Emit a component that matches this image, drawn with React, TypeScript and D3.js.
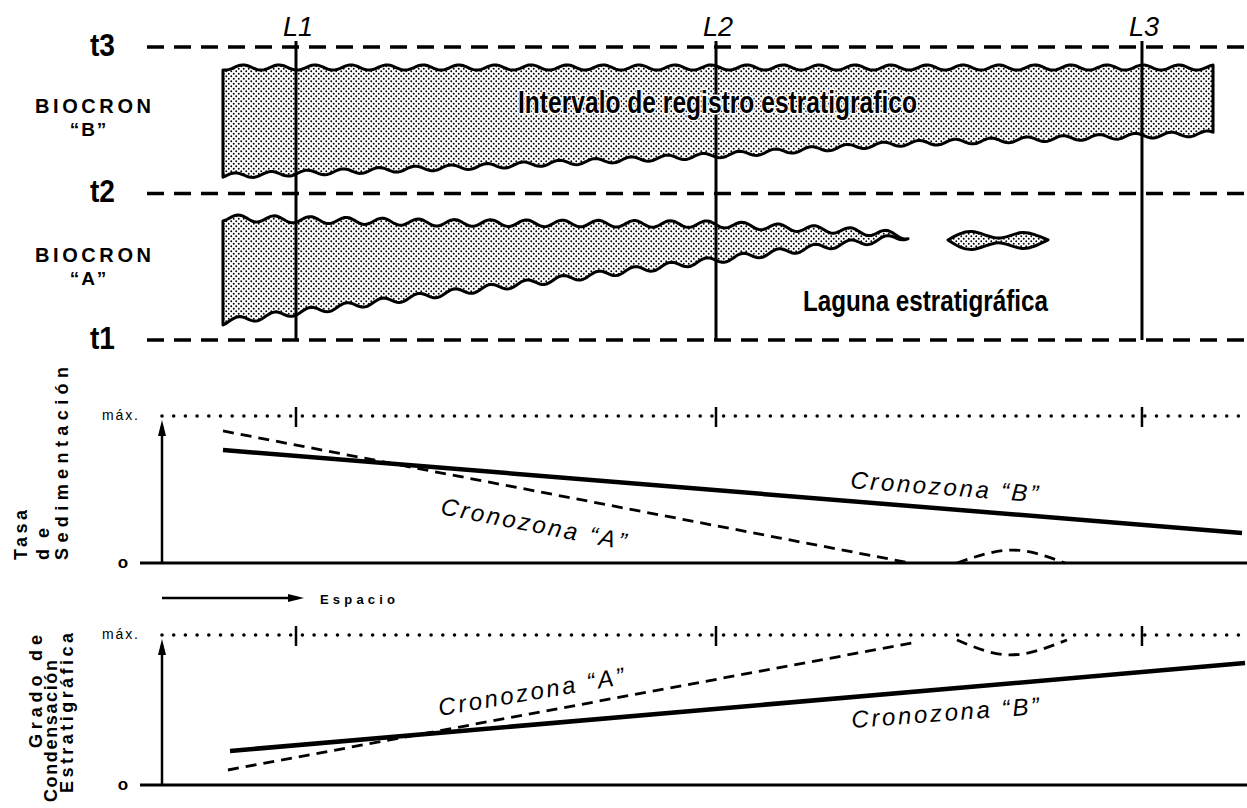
import { useEffect, useRef } from "react";
import * as d3 from "d3";

// time surfaces (top panel)
const timeLabels = ["t1", "t2", "t3"];
const timeValues = [1, 2, 3];

// stratigraphic sections, position along "Espacio" (0-100)
const sectionLabels = ["L1", "L2", "L3"];
const sectionPos = [12.35, 51.06, 90.32];

// Biocron "B" (time units, 1 = t1 ... 3 = t3)
const bioBX = [5.62, 31.2, 51.06, 68.0, 96.87];
const bioBTop = [2.86, 2.86, 2.86, 2.86, 2.86];
const bioBBottom = [2.12, 2.19, 2.26, 2.34, 2.41];

// Biocron "A"
const bioAX = [5.62, 25.6, 51.06, 62.0, 66.2, 68.76];
const bioATop = [1.833, 1.8, 1.79, 1.751, 1.73, 1.71];
const bioABottom = [1.123, 1.314, 1.546, 1.648, 1.683, 1.71];

// isolated lens of biocron "A"
const lensX = [72.44, 74.65, 77.05, 79.26, 81.66];
const lensTop = [1.683, 1.74, 1.696, 1.733, 1.683];
const lensBottom = [1.683, 1.618, 1.664, 1.625, 1.683];

// Tasa de sedimentación (0 .. máx = 1)
const rateBX = [5.62, 99.54];
const rateB = [0.769, 0.204];
const rateAX = [5.62, 68.94];
const rateA = [0.898, 0];
const rateLensX = [73.27, 78.4, 83.23];
const rateLens = [0, 0.088, 0];

// Grado de condensación (0 .. máx = 1)
const condBX = [6.27, 99.82];
const condB = [0.227, 0.813];
const condAX = [6.08, 69.59];
const condA = [0.1, 0.953];
const condLensX = [73.27, 78.16, 83.41];
const condLens = [0.967, 0.867, 0.967];

export default function App() {
  const chartRef = useRef<SVGSVGElement>(null);

  useEffect(() => {
    if (!chartRef.current) return;
    const width = 1247,
      height = 808;
    const font = "'Liberation Sans', Arial, Helvetica, sans-serif";
    const narrow = "'Liberation Sans Narrow', 'Liberation Sans', Arial, sans-serif";

    const svg = d3.select(chartRef.current);
    svg.selectAll("*").remove();
    svg.attr("width", width).attr("height", height);

    const x = d3.scaleLinear().domain([0, 100]).range([162, 1247]);
    const yTime = d3.scaleLinear().domain([1, 3]).range([340, 47]);
    const ySed = d3.scaleLinear().domain([0, 1]).range([563, 416]);
    const yCond = d3.scaleLinear().domain([0, 1]).range([785, 635]);

    // defs: stipple + arrow
    const defs = svg.append("defs");
    const pat = defs
      .append("pattern")
      .attr("id", "stipple")
      .attr("width", 5)
      .attr("height", 5)
      .attr("patternUnits", "userSpaceOnUse");
    pat.append("rect").attr("width", 5).attr("height", 5).attr("fill", "#fff");
    pat.append("circle").attr("cx", 1.25).attr("cy", 1.25).attr("r", 0.95).attr("fill", "#000");
    pat.append("circle").attr("cx", 3.75).attr("cy", 3.75).attr("r", 0.95).attr("fill", "#000");

    defs
      .append("marker")
      .attr("id", "arrowhead")
      .attr("viewBox", "0 0 16 8")
      .attr("refX", 10)
      .attr("refY", 4)
      .attr("markerUnits", "userSpaceOnUse")
      .attr("markerWidth", 16)
      .attr("markerHeight", 8)
      .attr("orient", "auto")
      .append("path")
      .attr("d", "M 0 0 L 16 4 L 0 8 Z")
      .attr("fill", "#000");

    // ---------- top panel ----------
    timeValues.forEach((t, i) => {
      svg
        .append("line")
        .attr("x1", 147)
        .attr("x2", width)
        .attr("y1", yTime(t))
        .attr("y2", yTime(t))
        .attr("stroke", "#000")
        .attr("stroke-width", 3.5)
        .attr("stroke-dasharray", "17 10");
      svg
        .append("text")
        .attr("x", 90)
        .attr("y", yTime(t) + 8.5)
        .attr("font-family", narrow)
        .attr("font-weight", "bold")
        .attr("font-size", 31)
        .attr("textLength", 25)
        .attr("lengthAdjust", "spacingAndGlyphs")
        .text(timeLabels[i]);
    });

    const wave = (px: number, amp: number, wl: number, ph: number) =>
      amp * Math.sin((2 * Math.PI * px) / wl + ph);

    function drawBand(xs: number[], tops: number[], bots: number[], amp: number, phTop: number, phBot: number) {
      const top = d3.scaleLinear().domain(xs).range(tops);
      const bot = d3.scaleLinear().domain(xs).range(bots);
      const last = xs[xs.length - 1];
      const u = d3.range(xs[0], last, 0.2).concat([last]);
      const area = d3
        .area<number>()
        .x((d) => x(d))
        .y1((d) => yTime(top(d)) + wave(x(d), amp, 36, phTop))
        .y0((d) => yTime(bot(d)) + wave(x(d), amp, 36, phBot));
      svg
        .append("path")
        .attr("d", area(u))
        .attr("fill", "url(#stipple)")
        .attr("stroke", "#000")
        .attr("stroke-width", 3)
        .attr("stroke-linejoin", "round");
    }

    drawBand(bioBX, bioBTop, bioBBottom, 2.6, 0, 1.4);
    drawBand(bioAX, bioATop, bioABottom, 3.3, 0.8, 0.8);

    const lensArea = d3
      .area<number>()
      .x((d) => x(lensX[d]))
      .y1((d) => yTime(lensTop[d]))
      .y0((d) => yTime(lensBottom[d]))
      .curve(d3.curveNatural);
    svg
      .append("path")
      .attr("d", lensArea(d3.range(lensX.length)))
      .attr("fill", "url(#stipple)")
      .attr("stroke", "#000")
      .attr("stroke-width", 3)
      .attr("stroke-linejoin", "round");

    // sections
    sectionPos.forEach((p, i) => {
      svg
        .append("line")
        .attr("x1", x(p))
        .attr("x2", x(p))
        .attr("y1", yTime(3) - 6)
        .attr("y2", yTime(1))
        .attr("stroke", "#000")
        .attr("stroke-width", 3);
      svg
        .append("text")
        .attr("x", x(p) - 13)
        .attr("y", 36)
        .attr("font-family", font)
        .attr("font-style", "italic")
        .attr("font-size", 27)
        .text(sectionLabels[i]);
    });

    // band texts (white halo over the stipple)
    svg
      .append("text")
      .attr("x", 518)
      .attr("y", 113)
      .attr("font-family", narrow)
      .attr("font-weight", "bold")
      .attr("font-size", 32)
      .attr("textLength", 399)
      .attr("lengthAdjust", "spacingAndGlyphs")
      .attr("stroke", "#fff")
      .attr("stroke-width", 3)
      .attr("paint-order", "stroke")
      .text("Intervalo de registro estratigrafico");

    svg
      .append("text")
      .attr("x", 803)
      .attr("y", 311)
      .attr("font-family", narrow)
      .attr("font-weight", "bold")
      .attr("font-size", 29)
      .attr("textLength", 245)
      .attr("lengthAdjust", "spacingAndGlyphs")
      .text("Laguna estratigráfica");

    // biocron labels
    [
      { y: 113, q: "“B”" },
      { y: 262, q: "“A”" },
    ].forEach((b) => {
      svg
        .append("text")
        .attr("x", 35)
        .attr("y", b.y)
        .attr("font-family", font)
        .attr("font-weight", "bold")
        .attr("font-size", 20)
        .attr("textLength", 116)
        .attr("lengthAdjust", "spacing")
        .text("BIOCRON");
      svg
        .append("text")
        .attr("x", 89)
        .attr("y", b.y + 23)
        .attr("text-anchor", "middle")
        .attr("font-family", font)
        .attr("font-weight", "bold")
        .attr("font-size", 19)
        .attr("letter-spacing", 2)
        .text(b.q);
    });

    // ---------- lower panels ----------
    function drawPanel(
      y: d3.ScaleLinear<number, number>,
      bx: number[],
      bv: number[],
      ax: number[],
      av: number[],
      lx: number[],
      lv: number[],
      labels: { u: number; v: number; rot: number; text: string }[],
      yLabel: { x: number; y: number; len: number; text: string }[]
    ) {
      // baseline
      svg
        .append("line")
        .attr("x1", 140)
        .attr("x2", width)
        .attr("y1", y(0))
        .attr("y2", y(0))
        .attr("stroke", "#000")
        .attr("stroke-width", 3);
      // max dotted line
      svg
        .append("line")
        .attr("x1", x(0))
        .attr("x2", width)
        .attr("y1", y(1))
        .attr("y2", y(1))
        .attr("stroke", "#000")
        .attr("stroke-width", 3.6)
        .attr("stroke-linecap", "round")
        .attr("stroke-dasharray", "0 11.7");
      // ticks for sections
      sectionPos.forEach((p) => {
        svg
          .append("line")
          .attr("x1", x(p))
          .attr("x2", x(p))
          .attr("y1", y(1) - 9)
          .attr("y2", y(1) + 11)
          .attr("stroke", "#000")
          .attr("stroke-width", 2.5);
      });
      // y axis arrow
      svg
        .append("line")
        .attr("x1", x(0))
        .attr("x2", x(0))
        .attr("y1", y(0))
        .attr("y2", y(1) + 10)
        .attr("stroke", "#000")
        .attr("stroke-width", 2.5)
        .attr("marker-end", "url(#arrowhead)");
      svg
        .append("text")
        .attr("x", 102)
        .attr("y", y(1) + 4)
        .attr("font-family", font)
        .attr("font-size", 14)
        .attr("textLength", 36)
        .attr("lengthAdjust", "spacing")
        .text("máx.");
      svg
        .append("text")
        .attr("x", 123)
        .attr("y", y(0) + 5)
        .attr("text-anchor", "middle")
        .attr("font-family", font)
        .attr("font-weight", "bold")
        .attr("font-size", 17)
        .text("o");

      const line = d3
        .line<[number, number]>()
        .x((d) => x(d[0]))
        .y((d) => y(d[1]));

      svg
        .append("path")
        .attr("d", line(d3.zip(bx, bv) as [number, number][]))
        .attr("fill", "none")
        .attr("stroke", "#000")
        .attr("stroke-width", 4.5);
      svg
        .append("path")
        .attr("d", line(d3.zip(ax, av) as [number, number][]))
        .attr("fill", "none")
        .attr("stroke", "#000")
        .attr("stroke-width", 2.8)
        .attr("stroke-dasharray", "11 7");
      svg
        .append("path")
        .attr("d", line.curve(d3.curveMonotoneX)(d3.zip(lx, lv) as [number, number][]))
        .attr("fill", "none")
        .attr("stroke", "#000")
        .attr("stroke-width", 2.8)
        .attr("stroke-dasharray", "11 7");

      labels.forEach((l) => {
        svg
          .append("text")
          .attr("transform", `translate(${x(l.u)},${y(l.v)}) rotate(${l.rot})`)
          .attr("font-family", font)
          .attr("font-style", "italic")
          .attr("font-size", 24)
          .attr("textLength", 188)
          .attr("lengthAdjust", "spacing")
          .text(l.text);
      });

      yLabel.forEach((l) => {
        svg
          .append("text")
          .attr("transform", `translate(${l.x},${l.y}) rotate(-90)`)
          .attr("font-family", font)
          .attr("font-weight", "bold")
          .attr("font-size", 18)
          .attr("textLength", l.len)
          .attr("lengthAdjust", "spacing")
          .text(l.text);
      });
    }

    drawPanel(
      ySed,
      rateBX,
      rateB,
      rateAX,
      rateA,
      rateLensX,
      rateLens,
      [
        { u: 63.4, v: 0.51, rot: 4.3, text: "Cronozona “B”" },
        { u: 25.6, v: 0.333, rot: 11, text: "Cronozona “A”" },
      ],
      [
        { x: 27, y: 560, len: 50, text: "Tasa" },
        { x: 49, y: 560, len: 32, text: "de" },
        { x: 68, y: 560, len: 193, text: "Sedimentación" },
      ]
    );

    drawPanel(
      yCond,
      condBX,
      condB,
      condAX,
      condA,
      condLensX,
      condLens,
      [
        { u: 63.6, v: 0.38, rot: -4.3, text: "Cronozona “B”" },
        { u: 25.6, v: 0.46, rot: -9.8, text: "Cronozona “A”" },
      ],
      [
        { x: 42, y: 748, len: 113, text: "Grado de" },
        { x: 57, y: 802, len: 142, text: "Condensación" },
        { x: 73, y: 793, len: 160, text: "Estratigráfica" },
      ]
    );

    // "Espacio" arrow
    svg
      .append("line")
      .attr("x1", x(0))
      .attr("x2", 298)
      .attr("y1", 598)
      .attr("y2", 598)
      .attr("stroke", "#000")
      .attr("stroke-width", 2.5)
      .attr("marker-end", "url(#arrowhead)");
    svg
      .append("text")
      .attr("x", 320)
      .attr("y", 604)
      .attr("font-family", font)
      .attr("font-weight", "bold")
      .attr("font-size", 13)
      .attr("textLength", 75)
      .attr("lengthAdjust", "spacing")
      .text("Espacio");
  }, []);

  return (
    <svg
      ref={chartRef}
      style={{ position: "absolute", left: 0, top: 0, background: "#fff" }}
    />
  );
}
